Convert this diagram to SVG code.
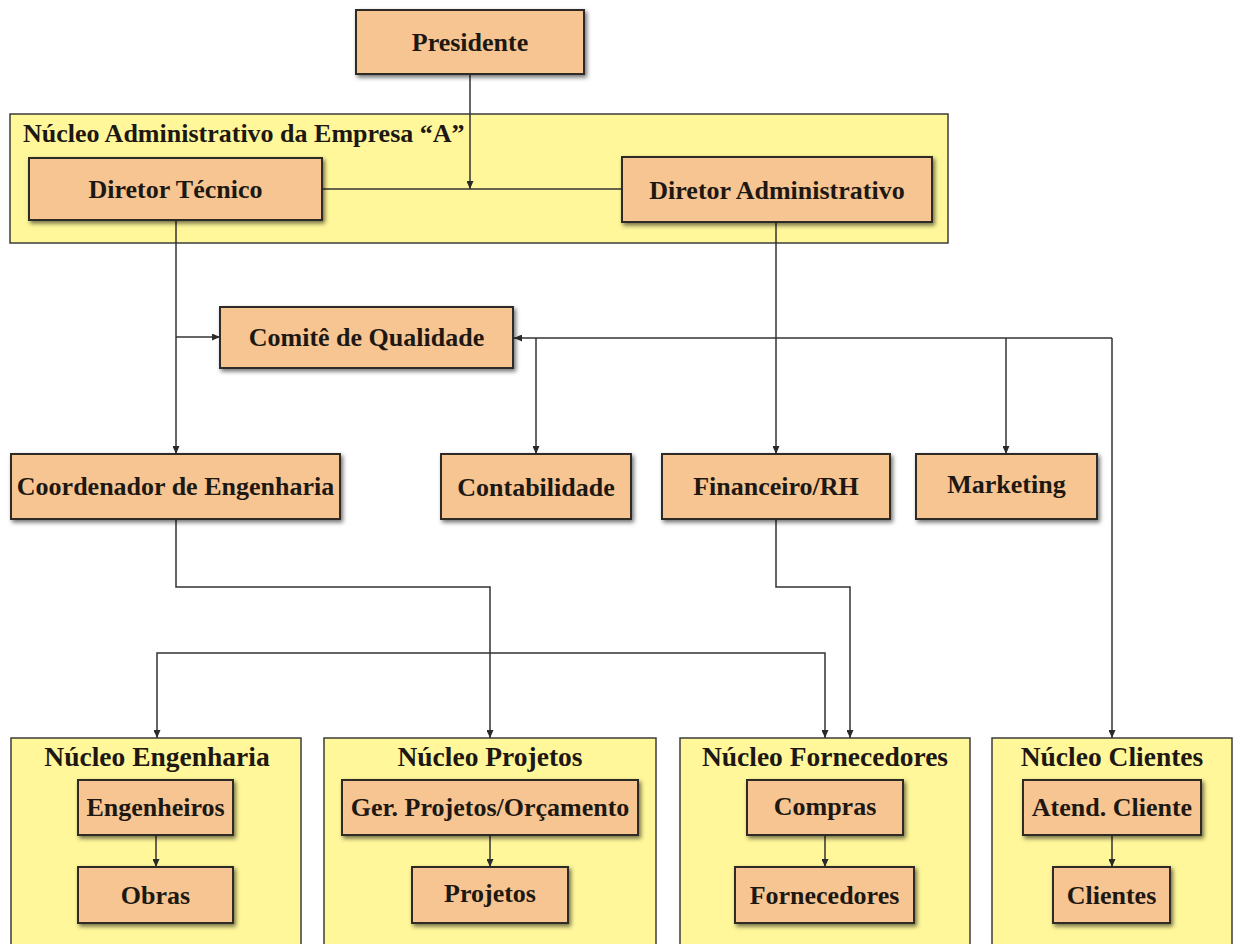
<svg xmlns="http://www.w3.org/2000/svg" width="1234" height="944" viewBox="0 0 1234 944">
<defs>
<filter id="sh" x="-10%" y="-10%" width="125%" height="135%">
<feDropShadow dx="2" dy="2.5" stdDeviation="2" flood-color="#000" flood-opacity="0.55"/>
</filter>
<marker id="ah" viewBox="0 0 8 7" refX="8" refY="3.5" markerWidth="8" markerHeight="7" markerUnits="userSpaceOnUse" orient="auto-start-reverse">
<path d="M0,0 L8,3.5 L0,7 z" fill="#2a2a2a"/>
</marker>
</defs>
<style>
.box{fill:#F6C592;stroke:#2e2a26;stroke-width:2;filter:url(#sh)}
.cont{fill:#FFF79A;stroke:#3c3c3c;stroke-width:1.5}
.t{font-family:"Liberation Serif","Times New Roman",serif;font-weight:bold;font-size:26px;fill:#1e1812;text-anchor:middle}
.tt{font-family:"Liberation Serif","Times New Roman",serif;font-weight:bold;font-size:27.5px;fill:#1e1812;text-anchor:middle}
.ta{font-family:"Liberation Serif","Times New Roman",serif;font-weight:bold;font-size:26px;fill:#1e1812}
.c{fill:none;stroke:#333;stroke-width:1.5}
.ca{fill:none;stroke:#333;stroke-width:1.5;marker-end:url(#ah)}
</style>
<rect width="1234" height="944" fill="#fff"/>

<g id="nucleo-admin">
<rect class="cont" x="10" y="114" width="938" height="129"/>
<text class="ta" x="23" y="142">Núcleo Administrativo da Empresa “A”</text>
</g>
<g id="nucleo-engenharia">
<rect class="cont" x="11" y="738" width="290" height="212"/>
<text class="tt" x="157" y="766">Núcleo Engenharia</text>
</g>
<g id="nucleo-projetos">
<rect class="cont" x="324" y="738" width="332" height="212"/>
<text class="tt" x="490" y="766">Núcleo Projetos</text>
</g>
<g id="nucleo-fornecedores">
<rect class="cont" x="680" y="738" width="290" height="212"/>
<text class="tt" x="825" y="766">Núcleo Fornecedores</text>
</g>
<g id="nucleo-clientes">
<rect class="cont" x="992" y="738" width="240" height="212"/>
<text class="tt" x="1112" y="766">Núcleo Clientes</text>
</g>

<g id="connectors">
<path class="ca" d="M470,74 L470,189"/>
<path class="c" d="M322,189 L622,189"/>
<path class="ca" d="M176,220 L176,454"/>
<path class="ca" d="M176,337 L220,337"/>
<path class="ca" d="M776,222 L776,454"/>
<path class="ca" d="M1112,338 L514,338"/>
<path class="ca" d="M1112,338 L1112,738"/>
<path class="ca" d="M536,338 L536,454"/>
<path class="ca" d="M1006,338 L1006,454"/>
<path class="ca" d="M176,519 L176,587 L490,587 L490,738"/>
<path class="ca" d="M776,519 L776,587 L850,587 L850,738"/>
<path class="ca" d="M157,738 L157,653 L825,653 L825,738" style="marker-start:url(#ah)"/>
<path class="ca" d="M156,835 L156,867"/>
<path class="ca" d="M490,835 L490,867"/>
<path class="ca" d="M825,835 L825,867"/>
<path class="ca" d="M1112,835 L1112,867"/>
</g>

<g id="presidente"><rect class="box" x="356" y="10" width="228" height="64"/><text class="t" x="470" y="51">Presidente</text></g>
<g id="diretor-tecnico"><rect class="box" x="29" y="158" width="293" height="62"/><text class="t" x="175.5" y="198">Diretor Técnico</text></g>
<g id="diretor-administrativo"><rect class="box" x="622" y="157" width="310" height="65"/><text class="t" x="777" y="199">Diretor Administrativo</text></g>
<g id="comite"><rect class="box" x="220" y="307" width="293" height="61"/><text class="t" x="366.5" y="346">Comitê de Qualidade</text></g>
<g id="coordenador"><rect class="box" x="11" y="454" width="329" height="65"/><text class="t" x="175.5" y="495">Coordenador de Engenharia</text></g>
<g id="contabilidade"><rect class="box" x="441" y="454" width="190" height="65"/><text class="t" x="536" y="496">Contabilidade</text></g>
<g id="financeiro"><rect class="box" x="662" y="454" width="228" height="65"/><text class="t" x="776" y="495">Financeiro/RH</text></g>
<g id="marketing"><rect class="box" x="916" y="454" width="181" height="65"/><text class="t" x="1006.5" y="493">Marketing</text></g>

<g id="engenheiros"><rect class="box" x="78" y="780" width="155" height="55"/><text class="t" x="155.5" y="816">Engenheiros</text></g>
<g id="obras"><rect class="box" x="78" y="867" width="155" height="56"/><text class="t" x="155.5" y="904">Obras</text></g>
<g id="ger-projetos"><rect class="box" x="342" y="780" width="296" height="55"/><text class="t" x="490" y="816">Ger. Projetos/Orçamento</text></g>
<g id="projetos"><rect class="box" x="412" y="867" width="156" height="56"/><text class="t" x="490" y="902">Projetos</text></g>
<g id="compras"><rect class="box" x="747" y="780" width="156" height="55"/><text class="t" x="825" y="815">Compras</text></g>
<g id="fornecedores"><rect class="box" x="735" y="867" width="179" height="56"/><text class="t" x="824.5" y="904">Fornecedores</text></g>
<g id="atend-cliente"><rect class="box" x="1023" y="780" width="178" height="55"/><text class="t" x="1112" y="816">Atend. Cliente</text></g>
<g id="clientes"><rect class="box" x="1053" y="867" width="117" height="56"/><text class="t" x="1111.5" y="904">Clientes</text></g>
</svg>
